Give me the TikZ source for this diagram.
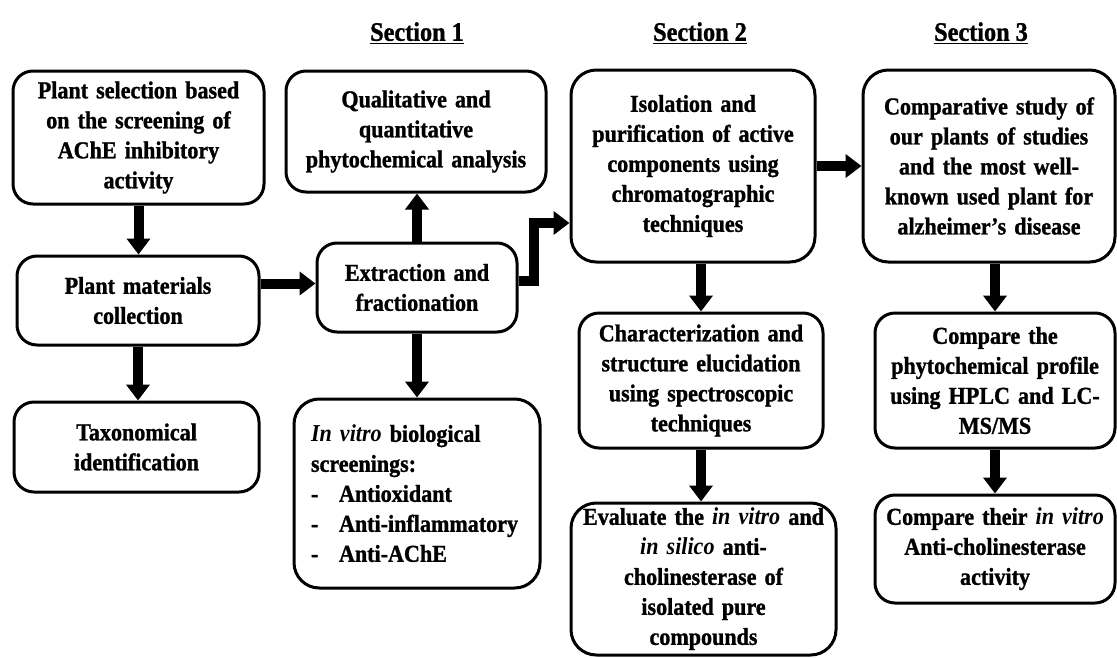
\documentclass[tikz,border=0pt]{standalone}
\usepackage{fontspec}
\setmainfont{Liberation Serif}[FakeStretch=0.91,BoldFeatures={FakeBold=1.2}]
\usetikzlibrary{arrows.meta,calc}
\begin{document}
\begin{tikzpicture}[x=0.75pt,y=-0.75pt,
  box/.style={draw, line width=2.25pt, rounded corners=15pt, inner sep=0pt, align=center,
    font=\fontsize{18.2}{22.5}\selectfont\bfseries},
  arr/.style={line width=7.5pt, line join=miter, -{Triangle[width=17.25pt,length=12pt]}},
  hdr/.style={font=\fontsize{20}{24}\selectfont\bfseries, inner sep=0pt}]
\newcommand{\iv}[1]{{\itshape #1}}
\fill[white] (0,0) rectangle (1117,657);
\useasboundingbox (0,0) rectangle (1117,657);

% headers
\node[hdr] (s1) at (417,33) {\underline{Section 1}};
\node[hdr] (s2) at (700,33) {\underline{Section 2}};
\node[hdr] (s3) at (981,33) {\underline{Section 3}};

% boxes
\node[box, minimum width=188.25pt, minimum height=99.75pt, text width=179.25pt] (A) at (138.5,137.5)
  {Plant selection based\\ on the screening of\\ AChE inhibitory\\ activity};
\node[box, minimum width=181.5pt, minimum height=66.75pt, text width=172.5pt] (B) at (138,300.5)
  {Plant materials\\ collection};
\node[box, minimum width=183.75pt, minimum height=67.5pt, text width=174.75pt] (C) at (136.5,447)
  {Taxonomical\\ identification};
\node[box, minimum width=195pt, minimum height=90.75pt, text width=186pt] (D) at (416,131.5)
  {Qualitative and\\ quantitative\\ phytochemical analysis};
\node[box, minimum width=150pt, minimum height=66.75pt, text width=141pt] (E) at (417,287.5)
  {Extraction and\\ fractionation};
\node[box, align=left, rounded corners=19pt, minimum width=184.5pt, minimum height=141.75pt, text width=159pt] (F) at (417,493.5)
  {\iv{In vitro} biological\\ screenings:\\ \makebox[21pt][l]{-}Antioxidant\\ \makebox[21pt][l]{-}Anti-inflammatory\\ \makebox[21pt][l]{-}Anti-AChE};
\node[box, rounded corners=19pt, minimum width=183pt, minimum height=144pt, text width=174pt] (G) at (693,166)
  {Isolation and\\ purification of active\\ components using\\ chromatographic\\ techniques};
\node[box, minimum width=183pt, minimum height=101.25pt, text width=174pt] (H) at (701,380.5)
  {Characterization and\\ structure elucidation\\ using spectroscopic\\ techniques};
\node[box, rounded corners=19pt, minimum width=198.75pt, minimum height=114pt, text width=189.75pt] (I) at (703.5,579)
  {Evaluate the \iv{in vitro} and\\ \iv{in silico} anti-\\ cholinesterase of\\ isolated pure\\ compounds};
\node[box, rounded corners=19pt, minimum width=189pt, minimum height=144pt, text width=180pt] (J) at (989,166)
  {Comparative study of\\ our plants of studies\\ and the most well-\\ known used plant for\\ alzheimer’s disease};
\node[box, minimum width=180pt, minimum height=101.25pt, text width=171pt] (K) at (995,380.5)
  {Compare the\\ phytochemical profile\\ using HPLC and LC-\\ MS/MS};
\node[box, minimum width=180pt, minimum height=81pt, text width=171pt] (L) at (995,549)
  {Compare their \iv{in vitro}\\ Anti-cholinesterase\\ activity};

% connectors
\coordinate (be) at ($(E.west)+(0,-4)$);
\coordinate (eo) at ($(E.east)+(0,-7)$);
\coordinate (gi) at ($(G.west)+(0,57)$);
\draw[arr] (A.south) -- (A.south |- B.north);
\draw[arr] (B.south) -- (B.south |- C.north);
\draw[arr] (be -| B.east) -- (be);
\draw[arr] (E.north) -- (E.north |- D.south);
\draw[arr] (E.south) -- (E.south |- F.north);
\draw[arr] (eo) -- ++(15,0) |- (gi);
\draw[arr] (G.east) -- (G.east -| J.west);
\draw[arr] (H.north |- G.south) -- (H.north);
\draw[arr] (H.south) -- (H.south |- I.north);
\draw[arr] (K.north |- J.south) -- (K.north);
\draw[arr] (K.south) -- (K.south |- L.north);
\end{tikzpicture}
\end{document}
